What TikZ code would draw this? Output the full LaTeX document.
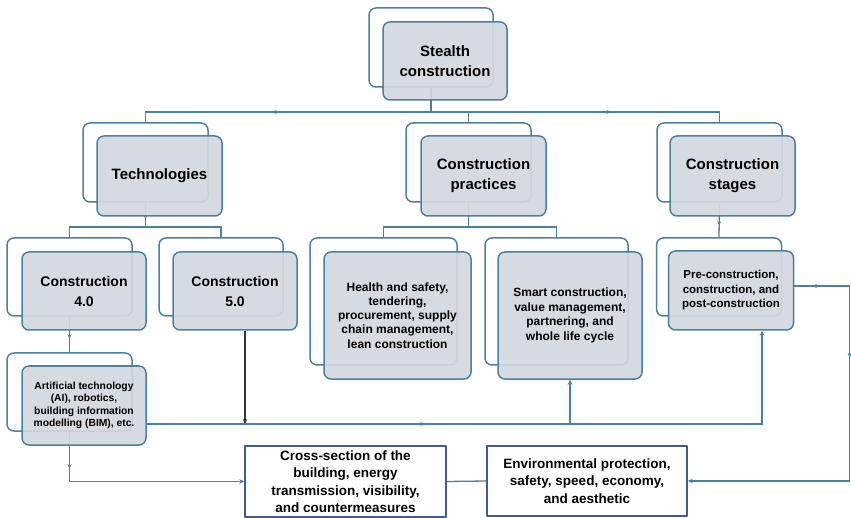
\documentclass[tikz,border=0pt]{standalone}
\usepackage{fontspec}
\setmainfont{Liberation Sans}
\usetikzlibrary{arrows.meta,calc,backgrounds,decorations.markings}
\definecolor{linkblue}{RGB}{74,128,160}
\definecolor{boxgray}{RGB}{211,215,222}
\definecolor{edgeblue}{RGB}{62,92,150}
\tikzset{midmark/.style={postaction={decorate,decoration={markings,mark=at position #1 with {\arrow{Stealth[length=4.5pt,width=4pt]}}}}}}

\begin{document}
\begin{tikzpicture}[x=1pt, y=-1pt, >={Stealth[length=5pt,width=4.5pt]}, line join=round]
	\tikzstyle{back} = [draw=linkblue, line width=1.5pt, rounded corners=7pt, inner sep=0pt]
	\tikzstyle{front} = [draw=linkblue, line width=1.5pt, rounded corners=7pt, fill=boxgray, fill opacity=0.92, text opacity=1, inner sep=0pt, align=center]
	\tikzstyle{plain} = [draw=edgeblue, line width=1.4pt, fill=white, inner sep=0pt, align=center, font=\bfseries\fontsize{13.5}{17.5}\selectfont]
	\tikzstyle{link} = [draw=linkblue, line width=1.3pt]

	\useasboundingbox (0,0) rectangle (851,518);

	% back outlines
	\node[back, minimum width=124, minimum height=79] (stealthB) at (431,47.5) {};
	\node[back, minimum width=125, minimum height=79] (techB) at (145.5,162.5) {};
	\node[back, minimum width=125, minimum height=79] (pracB) at (468.5,162.5) {};
	\node[back, minimum width=125, minimum height=79] (stagesB) at (719.5,162.5) {};
	\node[back, minimum width=125, minimum height=78] (c4B) at (69.5,277) {};
	\node[back, minimum width=124, minimum height=78] (c5B) at (221,277) {};
	\node[back, minimum width=147, minimum height=127] (healthB) at (383.5,301.5) {};
	\node[back, minimum width=143, minimum height=127] (smartB) at (556.5,301.5) {};
	\node[back, minimum width=125, minimum height=78] (stgB) at (719,277) {};
	\node[back, minimum width=125, minimum height=78] (aiB) at (69.5,392) {};

	% front boxes
	\node[front, minimum width=124, minimum height=78, font=\bfseries\fontsize{15}{20}\selectfont] (stealth) at (445,61) {Stealth\\construction};
	\node[front, minimum width=125, minimum height=80, font=\bfseries\fontsize{15}{20}\selectfont] (tech) at (159.5,176) {Technologies};
	\node[front, minimum width=125, minimum height=80, font=\bfseries\fontsize{15}{20}\selectfont] (prac) at (483.5,176) {Construction\\practices};
	\node[front, minimum width=125, minimum height=80, font=\bfseries\fontsize{15}{20}\selectfont] (stages) at (732.5,176) {Construction\\stages};
	\node[front, minimum width=124, minimum height=78, font=\bfseries\fontsize{14}{20}\selectfont] (c4) at (84,291) {Construction\\4.0};
	\node[front, minimum width=124, minimum height=78, font=\bfseries\fontsize{14}{20}\selectfont] (c5) at (235,291) {Construction\\5.0};
	\node[front, minimum width=147, minimum height=127, font=\bfseries\fontsize{12}{14.2}\selectfont] (health) at (397.5,315.5) {Health and safety,\\tendering,\\procurement, supply\\chain management,\\lean construction};
	\node[front, minimum width=144, minimum height=127, font=\bfseries\fontsize{12}{14.6}\selectfont] (smart) at (570,315.5) {Smart construction,\\value management,\\partnering, and\\whole life cycle};
	\node[front, minimum width=125, minimum height=79, font=\bfseries\fontsize{11.5}{14.5}\selectfont] (stg) at (731,290.5) {Pre-construction,\\construction, and\\post-construction};
	\node[front, minimum width=124, minimum height=79, font=\bfseries\fontsize{10.3}{12.3}\selectfont] (ai) at (84,405.5) {Artificial technology\\(AI), robotics,\\building information\\modelling (BIM), etc.};

	% outcome boxes
	\node[plain, minimum width=201, minimum height=71] (cross) at (345.5,481.5) {Cross-section of the\\building, energy\\transmission, visibility,\\and countermeasures};
	\node[plain, minimum width=200, minimum height=70] (env) at (587,481) {Environmental protection,\\safety, speed, economy,\\and aesthetic};

	\begin{scope}[on background layer]
	\coordinate (topbus) at (431,112);
	\coordinate (techbus) at (145.5,227);
	\coordinate (pracbus) at (468.5,227);
	\coordinate (lowleft) at ($(ai.east)+(0,18.5)$);
	\coordinate (lowright) at ($(stg.south)+(31,0)$);
	\coordinate (c5out) at ($(c5.south)+(10,0)$);
	\coordinate (stgout) at ($(stg.east)+(0,-4.5)$);

	\draw[link] (stealthB.south) -- (topbus);
	\draw[link, midmark=159pt] (topbus) -| (techB.north);
	\draw[link, midmark=180pt] (topbus) -| (stagesB.north);
	\draw[link] (topbus -| pracB.north) -- (pracB.north);

	\draw[link, midmark=16pt] (techB.south) -- (techbus);
	\draw[link] (c4B.north) |- (techbus) -| (c5B.north);
	\draw[link] (pracB.south) -- (pracbus);
	\draw[link] (healthB.north) |- (pracbus) -| (smartB.north);
	\draw[link, midmark=23pt] (stagesB.south) -- (stgB.north);

	\draw[link, midmark=22pt] (c4B.south) -- (aiB.north);
	\draw[link, ->, midmark=37pt] (aiB.south) |- (cross.west);
	\draw[link, ->, midmark=278pt] (lowleft) -| (lowright);
	\draw[link, ->] (smart.south |- lowleft) -- (smart.south);
	\draw[->, black!80, line width=1.2pt] (c5out) -- (c5out |- lowleft);
	\draw[link, ->, midmark=25.5pt, midmark=127pt] (stgout) -| ($(env.east)+(162,0)$) -- (env.east);
	\draw[link] (cross.east) -- (env.west);
	\end{scope}
\end{tikzpicture}
\end{document}
